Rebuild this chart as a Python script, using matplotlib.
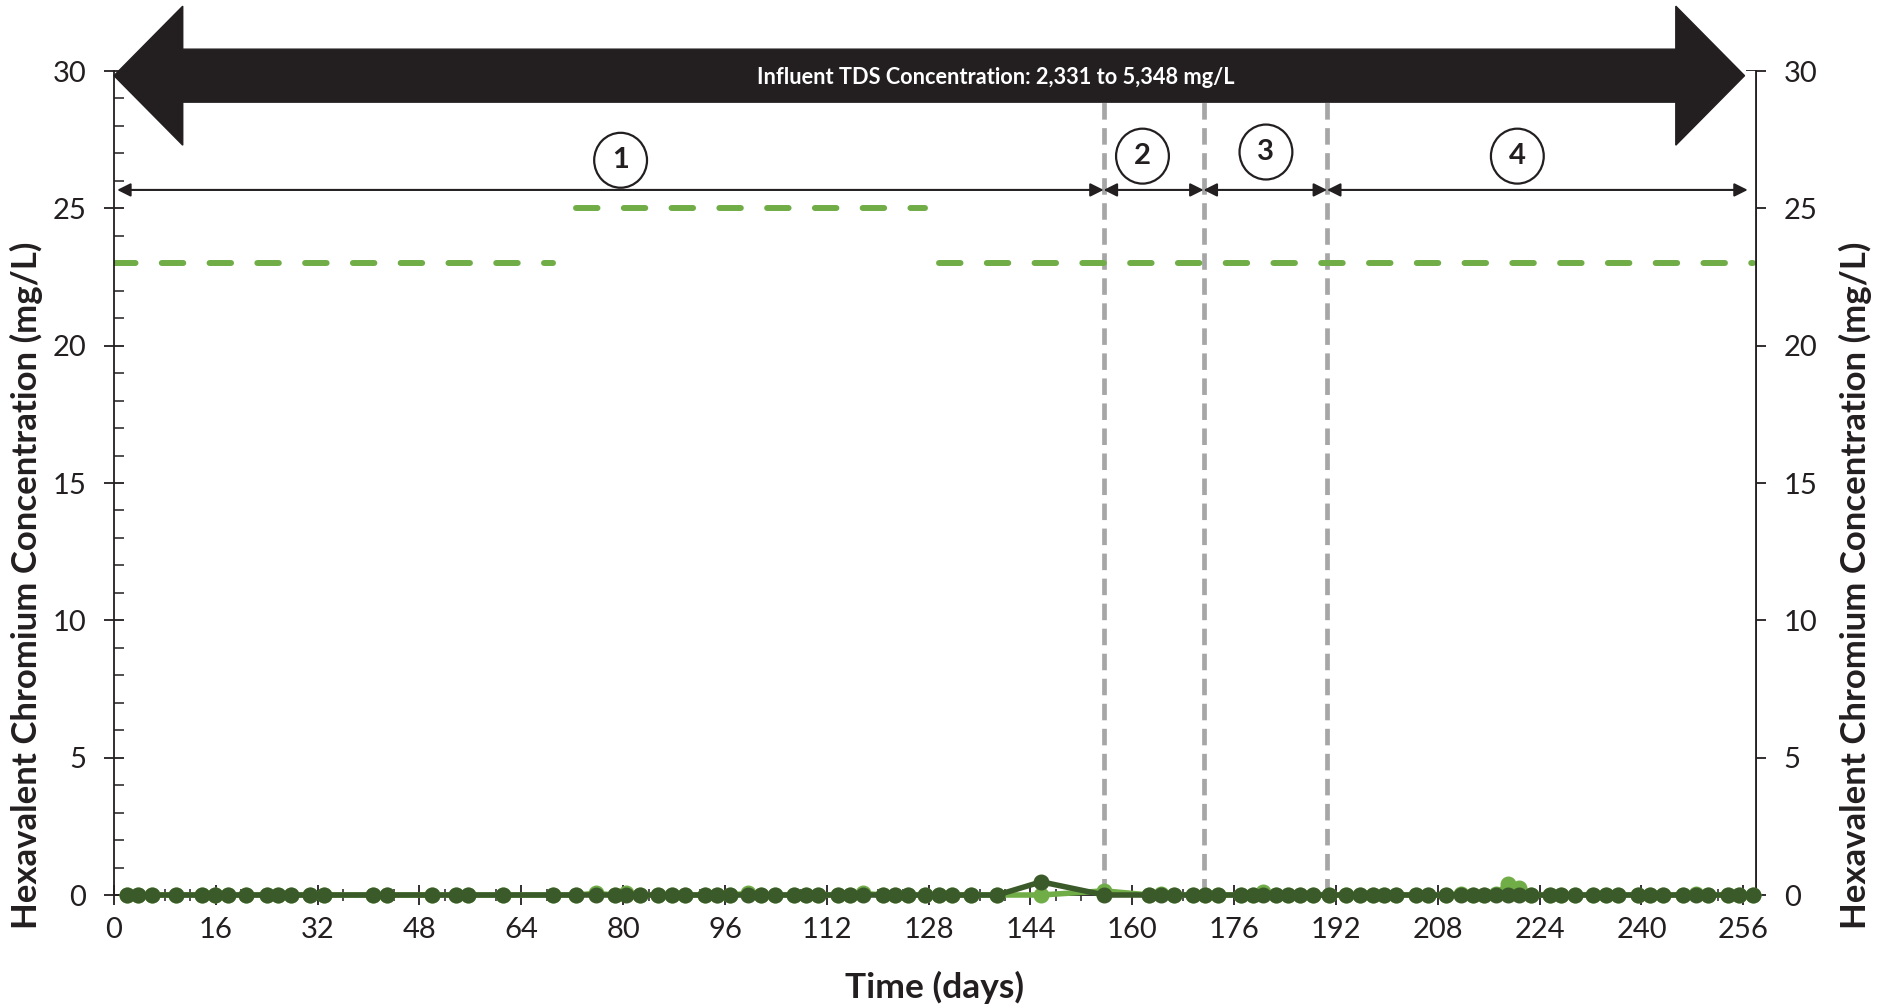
import matplotlib
matplotlib.use("Agg")
import matplotlib.pyplot as plt
from matplotlib.patches import Polygon, Ellipse
from matplotlib.ticker import MultipleLocator

plt.rcParams['font.family'] = ['Lato', 'DejaVu Sans']

# ---------------- data ----------------
days = [2.0, 3.8, 5.9, 9.8, 13.9, 15.9, 17.9, 20.7, 24.0, 25.8, 27.8, 30.8, 33.0, 40.7,
        42.9, 49.9, 53.8, 55.6, 61.1,
        69.0, 72.6, 75.7, 78.7, 80.5, 82.6, 85.5, 87.6, 89.7, 92.8, 94.7, 96.8, 99.6,
        101.7, 103.8, 106.9, 108.8, 110.6, 113.8, 115.6, 117.7, 120.8, 122.7, 124.7, 127.5,
        129.6, 131.7, 134.7, 138.8, 145.7, 155.6, 162.7, 164.5, 166.5, 169.5, 171.5, 173.4,
        177.1, 178.9, 180.5, 182.6, 184.4, 186.3, 188.4, 190.9,
        193.6, 195.7, 197.8, 199.6, 201.5, 204.6, 206.4, 209.3, 211.6, 213.5, 215.3, 217.2,
        219.0, 220.8, 222.7, 225.6, 227.4, 229.5, 232.4, 234.5, 236.3, 239.5, 241.3, 243.4,
        246.5, 248.6, 250.4, 253.6, 255.4, 257.5]

# dark green series
cr_dark = [0, 0, 0, 0, 0, 0, 0, 0, 0, 0, 0, 0, 0, 0,
           0, 0, 0, 0, 0,
           0, 0, 0, 0, 0, 0, 0, 0, 0, 0, 0, 0, 0,
           0, 0, 0, 0, 0, 0, 0, 0, 0, 0, 0, 0,
           0, 0, 0, 0, 0.48, 0, 0, 0, 0, 0, 0, 0,
           0, 0, 0, 0, 0, 0, 0, 0,
           0, 0, 0, 0, 0, 0, 0, 0, 0, 0, 0, 0,
           0, 0, 0, 0, 0, 0, 0, 0, 0, 0, 0, 0,
           0, 0, 0, 0, 0, 0]

# light green series
cr_light = [0, 0, 0, 0, 0, 0, 0, 0, 0, 0, 0, 0, 0, 0,
            0, 0, 0, 0, 0,
            0, 0, 0.06, 0, 0.06, 0, 0, 0, 0, 0, 0, 0, 0.06,
            0, 0, 0, 0, 0, 0, 0, 0.06, 0, 0, 0, 0,
            0, 0, 0, 0, 0, 0.15, 0, 0.05, 0, 0, 0, 0,
            0, 0, 0.1, 0, 0, 0, 0, 0,
            0, 0, 0, 0, 0, 0, 0, 0, 0.04, 0, 0, 0.05,
            0.4, 0.25, 0, 0, 0, 0, 0, 0, 0, 0, 0, 0,
            0, 0.05, 0, 0, 0, 0]

# dashed limit segments
limit_start = [0, 72.6, 129.6]
limit_end = [69.0, 127.5, 257.5]
limit_value = [23, 25, 23]

# phase boundaries and labels
phase_bounds = [0.5, 155.5, 171.2, 190.6, 256.7]
phase_labels = ['1', '2', '3', '4']
phase_label_x = [79.6, 161.6, 181.0, 220.5]
phase_label_y = [26.75, 26.9, 27.05, 26.9]

tds_text = 'Influent TDS Concentration: 2,331 to 5,348 mg/L'

xticks = list(range(0, 257, 16))
yticks = [0, 5, 10, 15, 20, 25, 30]

DARK = '#3B5A29'
LIGHT = '#70AD47'
INK = '#231F20'
GREY = '#A6A6A6'

# ---------------- figure ----------------
fig = plt.figure(figsize=(18.83, 10.08), dpi=100)
ax = fig.add_axes([114 / 1883, 113 / 1008, (1756 - 114) / 1883, (895 - 71) / 1008])
ax.set_xlim(0, 258)
ax.set_ylim(0, 30)

# limit dashed lines
for s, e, v in zip(limit_start, limit_end, limit_value):
    ax.plot([s, e], [v, v], color=LIGHT, lw=4.3, dashes=(3.6, 4.4),
            dash_capstyle='round', solid_capstyle='round', zorder=2)

# phase boundaries (vertical grey dashed)
for b in phase_bounds[1:-1]:
    ax.plot([b, b], [0, 29], color=GREY, lw=3.4, dashes=(3.5, 1.8), zorder=1.5,
            clip_on=False)

# phase arrows
for i in range(4):
    ax.annotate('', xy=(phase_bounds[i], 25.67), xytext=(phase_bounds[i + 1], 25.67),
                arrowprops=dict(arrowstyle='<|-|>', color=INK, lw=1.5,
                                mutation_scale=20, shrinkA=0, shrinkB=0),
                zorder=3)

# circled numbers
for lab, x, y in zip(phase_labels, phase_label_x, phase_label_y):
    ax.add_patch(Ellipse((x, y), 8.3, 2.0, facecolor='white', edgecolor=INK,
                         lw=1.6, zorder=4))
    ax.text(x, y, lab, ha='center', va='center', fontsize=21, fontweight='bold',
            color=INK, zorder=5)

# data series
ax.plot(days, cr_light, color=LIGHT, lw=4, marker='o', ms=10.5, zorder=5,
        clip_on=False)
ax.plot(days, cr_dark, color=DARK, lw=4, marker='o', ms=10.5, zorder=6,
        clip_on=False)

# big double arrow
x0, x1 = 0.0, 256.2
hl, yc, sh, hh = 10.8, 29.83, 0.965, 2.53
verts = [(x0, yc), (x0 + hl, yc + hh), (x0 + hl, yc + sh), (x1 - hl, yc + sh),
         (x1 - hl, yc + hh), (x1, yc), (x1 - hl, yc - hh), (x1 - hl, yc - sh),
         (x0 + hl, yc - sh), (x0 + hl, yc - hh)]
ax.add_patch(Polygon(verts, closed=True, facecolor=INK, edgecolor=INK,
                     clip_on=False, zorder=7))
ax.text(138.6, yc - 0.08, tds_text, color='white', fontsize=15.7, fontweight='bold',
        ha='center', va='center', zorder=8)

# axes styling
ax.spines['top'].set_visible(False)
for sp in ['left', 'right', 'bottom']:
    ax.spines[sp].set_color(INK)
    ax.spines[sp].set_linewidth(1.3)

ax.set_xticks(xticks)
ax.set_xticklabels([str(t) for t in xticks])
ax.xaxis.set_minor_locator(MultipleLocator(4))
ax.set_yticks(yticks)
ax.yaxis.set_minor_locator(MultipleLocator(1))
ax.tick_params(axis='x', which='major', direction='inout', length=14, width=1.3,
               colors=INK, labelsize=21, pad=9)
ax.tick_params(axis='x', which='minor', direction='inout', length=9, width=1.1, colors=INK)
ax.tick_params(axis='y', which='major', direction='inout', length=14, width=1.3,
               colors=INK, labelsize=21, pad=13)
ax.tick_params(axis='y', which='minor', direction='in', length=7, width=1.1, colors=INK)

ax2 = ax.twinx()
ax2.set_ylim(0, 30)
ax2.set_yticks(yticks)
ax2.yaxis.set_minor_locator(MultipleLocator(1))
ax2.tick_params(axis='y', which='major', direction='inout', length=14, width=1.3,
                colors=INK, labelsize=21, pad=13)
ax2.tick_params(axis='y', which='minor', direction='in', length=7, width=1.1, colors=INK)
for sp in ['top', 'left', 'bottom']:
    ax2.spines[sp].set_visible(False)
ax2.spines['right'].set_color(INK)
ax2.spines['right'].set_linewidth(1.3)
ax2.set_zorder(-1)

ylab = 'Hexavalent Chromium Concentration (mg/L)'
fig.text(26 / 1883, 1 - 585 / 1008, ylab, rotation=90, ha='center', va='center',
         fontsize=25, fontweight='bold', color=INK)
fig.text(1855 / 1883, 1 - 585 / 1008, ylab, rotation=90, ha='center', va='center',
         fontsize=25, fontweight='bold', color=INK)
fig.text(935 / 1883, 1 - 987 / 1008, 'Time (days)', ha='center', va='center',
         fontsize=25.5, fontweight='bold', color=INK)

fig.savefig('out.png', dpi=100)
